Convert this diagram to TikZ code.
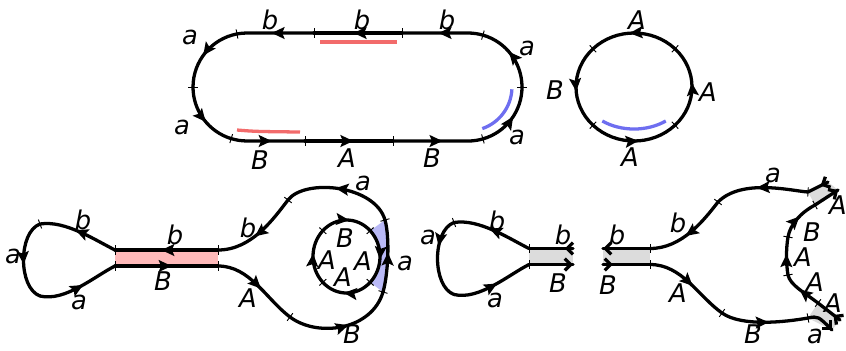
\documentclass[tikz,border=0pt]{standalone}
\usepackage{fontspec}
\setmainfont{DejaVu Sans}
\usetikzlibrary{calc,arrows.meta,decorations.markings}
\definecolor{hlred}{HTML}{F26B6B}
\definecolor{hlblue}{HTML}{6E6EF0}
\definecolor{bandred}{HTML}{FFBABA}
\definecolor{bandblue}{HTML}{B9B9F6}
\definecolor{bandgray}{HTML}{DCDCDC}
\tikzset{
  seg/.style={line width=2.8pt, line cap=round, draw=black},
  tickln/.style={line width=0.8pt, line cap=butt},
  mid/.style={postaction={decorate, decoration={markings,
      mark=at position #1 with {\arrow{Stealth[length=11pt,width=10pt,inset=2pt]}}}}},
  mid/.default=0.55,
  bb/.style={postaction={decorate, decoration={markings,
      mark=at position #1 with {\arrow{Straight Barb[length=5pt,width=10pt]}}}}},
  ts/.style={postaction={decorate, decoration={markings,
      mark=at position 0 with {\draw[tickln] (0pt,-4pt) -- (0pt,4pt);}}}},
  te/.style={postaction={decorate, decoration={markings,
      mark=at position 0.9999 with {\draw[tickln] (0pt,-4pt) -- (0pt,4pt);}}}},
  hl/.style={line width=2.8pt, line cap=butt},
  lbl/.style={font=\fontsize{22}{24}\selectfont\itshape, inner sep=0pt},
}
\begin{document}
\begin{tikzpicture}[x=0.03cm, y=-0.03cm]
  \useasboundingbox (0,0) rectangle (846,350);

  % stadium loop
  \draw[hl, hlred] (320,42) -- (397,42);
  \draw[hl, hlred] (237,130) .. controls (255,131.5) .. (300,132);
  \draw[hl, hlblue] (511.9,89.3) arc[start angle=3, end angle=71, radius=44];
  \draw[seg,mid,ts] (522,87) arc[start angle=0, end angle=-74, radius=54];
  \draw[seg,mid,ts] (482.9,35.1) arc[start angle=-74, end angle=-90, radius=54] -- (402,33);
  \draw[seg,mid,ts] (402,33) -- (314,33);
  \draw[seg,mid,ts] (314,33) -- (247,33) arc[start angle=-90, end angle=-100.7, radius=54];
  \draw[seg,mid,ts] (237,33.94) arc[start angle=-100.7, end angle=-180, radius=54];
  \draw[seg,mid,ts] (193,87) arc[start angle=180, end angle=107, radius=54];
  \draw[seg,mid,ts] (231.2,138.6) arc[start angle=107, end angle=90, radius=54] -- (305,141);
  \draw[seg,mid,ts] (305,141) -- (393,141);
  \draw[seg,mid,ts] (393,141) -- (468,141) arc[start angle=90, end angle=74, radius=54];
  \draw[seg,mid,ts] (482.9,138.9) arc[start angle=74, end angle=0, radius=54];
  \foreach \t/\x/\y [count=\i] in {a/190/37, b/270/20, b/362/20, b/447/20, a/527/48,
      a/517/137, B/260/160, A/347/158, B/432/158, a/182/127}
    \node[lbl] (st\i) at (\x,\y) {\t};

  % circle
  \draw[hl, hlblue] (602.3,121) arc[start angle=126, end angle=54, x radius=54, y radius=42];
  \foreach \s/\e in {-45/-135, -135/-225, 135/45, 45/-45}
    \draw[seg,mid,ts] ($(634,87)+(\s:58 and 54)$)
      arc[start angle=\s, end angle=\e, x radius=58, y radius=54];
  \foreach \t/\x/\y [count=\i] in {A/637/20, B/555/90, A/708/92, A/630/157}
    \node[lbl] (ci\i) at (\x,\y) {\t};

  % joined figure
  \fill[bandred] (115,250) rectangle (218,266);
  \fill[bandblue] (370.2,230.7) arc[start angle=-45, end angle=45, x radius=33.5, y radius=36.5]
    -- (383,292) .. controls (388,275) and (390,238) .. (385,220) -- cycle;
  \draw[seg,mid] (115,250) .. controls (95,240) and (65,220) .. (40,224);
  \draw[seg,mid,ts,te] (40,224) .. controls (18,232) and (18,288) .. (40,296);
  \draw[seg,mid] (40,296) .. controls (65,302) and (95,276) .. (115,266);
  \draw[seg,mid,ts,te] (218,250) -- (115,250);
  \draw[seg,mid,ts,te] (115,266) -- (218,266);
  \draw[seg,mid,ts] (288,200) .. controls (274,218) and (252,250) .. (218,250);
  \draw[seg,mid] (218,266) .. controls (250,266) and (266,299) .. (290,317);
  \draw[seg,mid,ts] (290,317) .. controls (318,338) and (372,330) .. (383,292);
  \draw[seg,mid,ts] (383,292) .. controls (388,275) and (390,238) .. (385,220);
  \draw[seg,mid,ts] (385,220) .. controls (375,185) and (305,178) .. (288,200);
  \foreach \s/\e in {-135/-45, -45/45, 45/135, 135/225}
    \draw[seg,mid,ts] ($(346.5,256.5)+(\s:33.5 and 36.5)$)
      arc[start angle=\s, end angle=\e, x radius=33.5, y radius=36.5];
  \foreach \t/\x/\y [count=\i] in {b/83/220, a/13/256, a/79/302, b/175/235, B/163/281,
      b/248/228, A/248/298, a/363/183, a/405/263, B/352/334,
      B/345/238, A/327/260, A/363/261, A/343/277}
    \node[lbl] (jn\i) at (\x,\y) {\t};

  % cut: left piece
  \fill[bandgray] (529,248.5) rectangle (573,264.5);
  \begin{scope}[shift={(414,-1.5)}]
    \draw[seg,mid] (115,250) .. controls (95,240) and (65,220) .. (40,224);
    \draw[seg,mid=0.35,ts,te] (40,224) .. controls (18,232) and (18,288) .. (40,296);
    \draw[seg,mid] (40,296) .. controls (65,302) and (95,276) .. (115,266);
  \end{scope}
  \draw[seg,te,bb=7pt] (573,248.5) -- (529,248.5);
  \draw[seg,ts,bb=0.9999] (529,264.5) -- (573,264.5);
  \foreach \t/\x/\y [count=\i] in {b/497/221, a/428/237, a/495/300, b/563/235, B/558/283}
    \node[lbl] (lc\i) at (\x,\y) {\t};

  % cut: right piece
  \fill[bandgray] (603,248.5) rectangle (650,264.5);
  \fill[bandgray] (808,192) -- (828,182) -- (838,190) -- (815,205) -- cycle;
  \fill[bandgray] (808,318) -- (818,303) -- (840,320) -- (832,330) -- cycle;
  \draw[seg,ts,bb=0.9999] (650,248.5) -- (603,248.5);
  \draw[seg,te,bb=8.5pt] (603,264.5) -- (650,264.5);
  \draw[seg,mid,ts] (718,202) .. controls (704,220) and (682,248.5) .. (650,248.5);
  \draw[seg,mid,ts] (808,192) .. controls (792,191) and (742,178) .. (718,202);
  \draw[seg,bb=7pt] (828,182) -- (808,192);
  \draw[seg,mid] (650,264.5) .. controls (682,264.5) and (698,296) .. (722,313);
  \draw[seg,mid,ts,te] (722,313) .. controls (742,327) and (785,322) .. (808,318);
  \draw[seg,bb=0.9999] (808,318) .. controls (818,316) .. (832,330);
  \draw[seg,te,bb=7pt] (840,320) -- (818,303);
  \draw[seg,mid] (818,303) .. controls (805,293) and (790,285) .. (788,275);
  \draw[seg,mid,ts,te] (788,275) .. controls (786,263) and (786,249) .. (788,237);
  \draw[seg,mid,te] (788,237) .. controls (790,225) and (800,213) .. (815,205);
  \draw[seg,bb=0.9999] (815,205) -- (838,190);
  \foreach \t/\x/\y [count=\i] in {b/617/235, B/608/285, b/678/223, a/773/175, A/678/293,
      B/753/334, a/815/336, A/838/205, B/812/232, A/803/257, A/815/282, A/833/303}
    \node[lbl] (rc\i) at (\x,\y) {\t};
\end{tikzpicture}
\end{document}
